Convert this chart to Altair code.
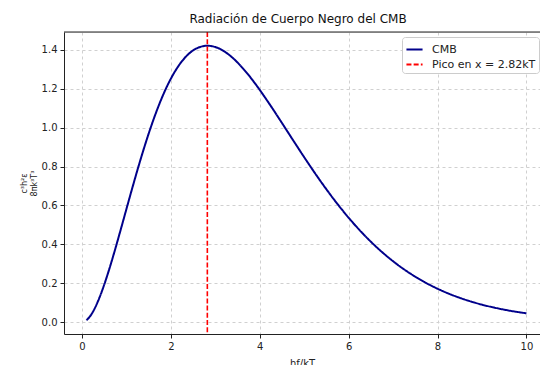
import altair as alt
import pandas as pd

x_vals = [0.1, 0.2, 0.25, 0.375, 0.5, 0.625, 0.75, 0.875, 1.0, 1.125, 1.25, 1.375, 1.5, 1.625,
          1.75, 1.875, 2.0, 2.125, 2.25, 2.375, 2.5, 2.625, 2.75, 2.82, 3.0, 3.125, 3.25, 3.375,
          3.5, 3.625, 3.75, 3.875, 4.0, 4.125, 4.25, 4.375, 4.5, 4.625, 4.75, 4.875, 5.0, 5.25,
          5.5, 5.75, 6.0, 6.25, 6.5, 6.75, 7.0, 7.25, 7.5, 7.75, 8.0, 8.25, 8.5, 8.75, 9.0,
          9.25, 9.5, 9.75, 10.0]
y_vals = [0.0095, 0.0361, 0.0550, 0.1159, 0.1927, 0.2812, 0.3777, 0.4789, 0.5820, 0.6845,
          0.7843, 0.8797, 0.9694, 1.0521, 1.1272, 1.1941, 1.2521, 1.3014, 1.3420, 1.3738,
          1.3973, 1.4124, 1.4203, 1.4214, 1.4147, 1.4025, 1.3847, 1.3622, 1.3350, 1.3038,
          1.2700, 1.2331, 1.1941, 1.1530, 1.1109, 1.0677, 1.0237, 0.9795, 0.9353, 0.8914,
          0.8480, 0.7633, 0.6827, 0.6070, 0.5367, 0.4722, 0.4135, 0.3605, 0.3131, 0.2708,
          0.2335, 0.2006, 0.1718, 0.1467, 0.1250, 0.1062, 0.0900, 0.0761, 0.0642, 0.0540,
          0.0454]
peak_x = [2.82]
series_names = ["CMB", "Pico en x = 2.82kT"]
series_colors = ["#00008B", "#FF0000"]
x_ticks = [0, 2, 4, 6, 8, 10]
y_ticks = [0.0, 0.2, 0.4, 0.6, 0.8, 1.0, 1.2, 1.4]

curve = pd.DataFrame({"x": x_vals, "y": y_vals, "s": series_names[0]})
peak = pd.DataFrame({"x": peak_x, "s": series_names[1]})

FONT = "DejaVu Sans"

color_scale = alt.Scale(domain=series_names, range=series_colors)
dash_scale = alt.Scale(domain=series_names, range=[[1, 0], [5, 2.2]])
xscale = alt.Scale(domain=[-0.405, 10.305], nice=False, zero=False)
yscale = alt.Scale(domain=[-0.061, 1.492], nice=False, zero=False)

legend = alt.Legend(title=None, orient="none", legendX=338, legendY=5, fillColor="white",
                    strokeColor="#cccccc", padding=3, cornerRadius=3,
                    symbolType="stroke", symbolSize=260, symbolStrokeWidth=2,
                    labelFont=FONT, labelFontSize=11, labelColor="#222", labelOffset=8,
                    rowPadding=0)

x_axis = alt.Axis(values=x_ticks, title="hf/kT", titleFont=FONT, titleFontSize=10,
                  titleFontWeight="normal", titleColor="#222", titlePadding=7,
                  labelFont=FONT, labelFontSize=10, labelColor="#222", labelPadding=3,
                  tickSize=4, tickColor="#222", domainColor="#222",
                  grid=True, gridDash=[3, 3], gridColor="#d0d0d0", format="d")
y_axis = alt.Axis(values=y_ticks, title=["c³h²ε", "8πk³T³"], titleFont=FONT, titleFontSize=8,
                  titleFontWeight="normal", titleColor="#222", titlePadding=3,
                  titleLineHeight=10,
                  labelFont=FONT, labelFontSize=10, labelColor="#222", labelPadding=3,
                  tickSize=4, tickColor="#222", domainColor="#222", format=".1f",
                  grid=True, gridDash=[3, 3], gridColor="#d0d0d0")

line = alt.Chart(curve).mark_line(strokeWidth=2, interpolate="monotone").encode(
    x=alt.X("x:Q", scale=xscale, axis=x_axis),
    y=alt.Y("y:Q", scale=yscale, axis=y_axis),
    color=alt.Color("s:N", scale=color_scale, legend=legend),
    strokeDash=alt.StrokeDash("s:N", scale=dash_scale, legend=legend),
)

rule = alt.Chart(peak).mark_rule(strokeWidth=1.6).encode(
    x=alt.X("x:Q", scale=xscale),
    color=alt.Color("s:N", scale=color_scale, legend=legend),
    strokeDash=alt.StrokeDash("s:N", scale=dash_scale, legend=legend),
)

top_spine = alt.Chart(peak).mark_rule(color="#222", strokeWidth=1).encode(
    x=alt.value(0), x2=alt.value(480), y=alt.value(0)
)

chart = alt.layer(line, rule, top_spine).properties(
    width=476, height=302,
    title=alt.TitleParams("Radiación de Cuerpo Negro del CMB", font=FONT, fontSize=12,
                          fontWeight="normal", color="#111", anchor="middle", dx=-4, offset=5),
    autosize=alt.AutoSizeParams(type="none"),
    padding={"left": 64, "top": 32, "right": 0, "bottom": 31},
).configure_view(stroke=None).configure(background="white")

chart.save("out.html", embed_options={"renderer": "svg", "actions": False})
